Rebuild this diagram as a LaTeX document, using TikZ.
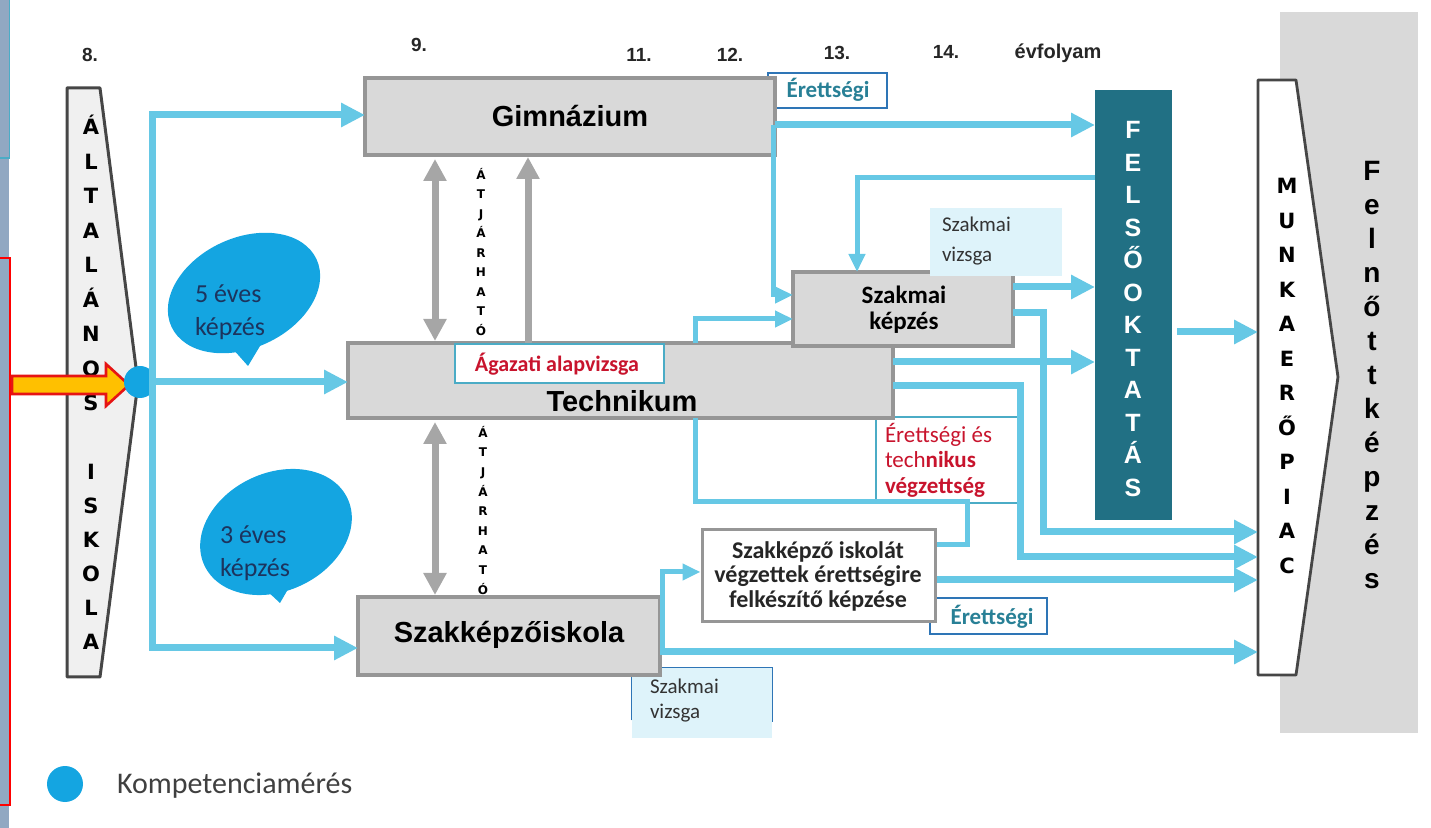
\documentclass[tikz,border=0pt]{standalone}
\usepackage{fontspec}
\setmainfont{Liberation Sans}
\newfontfamily\carl{Carlito}
\newfontfamily\dejav{DejaVu Sans}
\usetikzlibrary{arrows.meta,fit,shapes.geometric}
\definecolor{conn}{RGB}{102,200,229}
\definecolor{garrow}{RGB}{166,166,166}
\definecolor{boxfill}{RGB}{217,217,217}
\definecolor{boxdraw}{RGB}{150,150,150}
\definecolor{felsoc}{RGB}{33,112,132}
\definecolor{bubble}{RGB}{20,165,225}
\definecolor{tealtxt}{RGB}{40,128,150}
\definecolor{redtxt}{RGB}{200,20,45}
\definecolor{navy}{RGB}{28,52,94}
\definecolor{bordblue}{RGB}{46,117,182}
\definecolor{lightc}{RGB}{222,243,250}
\definecolor{tealline}{RGB}{75,172,198}
\definecolor{stripc}{RGB}{145,168,194}
\definecolor{darkline}{RGB}{70,70,70}
\definecolor{arrowyel}{RGB}{255,192,0}
\definecolor{arrowred}{RGB}{230,20,20}
\definecolor{bgc}{RGB}{217,217,217}
\begin{document}
\begin{tikzpicture}[x=0.5pt,y=-0.5pt,
  box/.style={draw=boxdraw,fill=boxfill,line width=2pt,inner sep=0pt,outer sep=0pt},
  conn/.style={draw=conn,line width=3.5pt},
  connA/.style={conn,-{Triangle[length=12pt,width=11.5pt]}},
  connS/.style={draw=conn,line width=2.5pt},
  connSA/.style={connS,-{Triangle[length=9pt,width=8pt]}},
  gar/.style={draw=garrow,line width=3.5pt},
  vlet/.style={inner sep=0pt,outer sep=0pt,text depth=0pt},
  wideletter/.style={vlet,text height=7.65pt,font=\dejav\bfseries\fontsize{10.5}{12}\selectfont},
  colnum/.style={font=\bfseries\fontsize{9.5}{11}\selectfont,text=black!85,inner sep=0pt},
  bigtxt/.style={font=\bfseries\fontsize{14.5}{16}\selectfont,inner sep=0pt},
  plain/.style={inner sep=0pt,outer sep=0pt}]
\useasboundingbox (0,0) rectangle (1431,828);
% left edge strip
\fill[stripc] (0,0) rectangle (9,828);
\draw[tealline,line width=0.75pt] (9.5,0) -- (9.5,158) -- (0,158);
\draw[red,line width=0.75pt] (0,258) -- (10,258) -- (10,805) -- (0,805);
% background of Felnottkepzes
\fill[bgc] (1280,12) rectangle (1418,733);
% helper y levels
\coordinate (h115) at (0,115); \coordinate (h125) at (0,125);
\coordinate (h178) at (0,178); \coordinate (h287) at (0,287);
\coordinate (h295) at (0,295); \coordinate (h313) at (0,313);
\coordinate (h319) at (0,319); \coordinate (h332) at (0,332);
\coordinate (h362) at (0,362); \coordinate (h386) at (0,386);
\coordinate (h502) at (0,502); \coordinate (h532) at (0,532);
\coordinate (h545) at (0,545); \coordinate (h557) at (0,557);
\coordinate (h572) at (0,572); \coordinate (h580) at (0,580);
\coordinate (h648) at (0,648); \coordinate (h652) at (0,652);
% column labels
\node[colnum] (c8) at (90,55) {8.};
\node[colnum] (c9) at (419,45) {9.};
\node[colnum] (c11) at (639,55) {11.};
\node[colnum] (c12) at (730,55) {12.};
\node[colnum] (c13) at (837,53) {13.};
\node[colnum] (c14) at (946,52) {14.};
\node[colnum,font=\bfseries\fontsize{10}{12}\selectfont] (cevf) at (1058,53) {évfolyam};
% speech bubbles
\node[ellipse,fill=bubble,minimum width=80pt,minimum height=55pt,inner sep=0pt,rotate=25] (b5) at (244,293) {};
\fill[bubble] (232,348) -- (263,341) -- (248,366) -- cycle;
\node[ellipse,fill=bubble,minimum width=79pt,minimum height=59pt,inner sep=0pt,rotate=25] (b3) at (276,532) {};
\fill[bubble] (266,590) -- (291,584) -- (280,603) -- cycle;
\node[plain,anchor=west,align=left,text=navy,font=\carl\fontsize{13}{16.5}\selectfont] (b5t) at (195,312) {5 éves\\képzés};
\node[plain,anchor=west,align=left,text=navy,font=\carl\fontsize{13}{16.5}\selectfont] (b3t) at (220,553) {3 éves\\képzés};
% Altalanos iskola
\node[plain,fit={(67,88)(100,677)}] (altal) {};
\draw[draw=darkline,fill=black!6,line width=1.5pt,line join=round] (altal.north west) -- (altal.north east) -- (138,383) -- (altal.south east) -- (altal.south west) -- cycle;
\foreach \l [count=\i] in {Á,L,T,A,L,Á,N,O,S}
  \node[wideletter] (alt\i) at (91,{127+34.5*(\i-1)}) {\l};
\foreach \l [count=\i] in {I,S,K,O,L,A}
  \node[wideletter] (isk\i) at (91,{472+34*(\i-1)}) {\l};
% input arrow
\filldraw[fill=arrowyel,draw=arrowred,line width=1.3pt,line join=miter] (12,376) -- (106,376) -- (106,364) -- (129,385) -- (106,406) -- (106,394) -- (12,394) -- cycle;
\node[circle,fill=bubble,minimum size=16pt,inner sep=0pt] (dot) at (140,382) {};
% upper Erettsegi box (behind Gimnazium)
\node[draw=bordblue,line width=1pt,fill=white,inner sep=0pt,fit={(768,73)(887,108)}] (er1) {};
\node[text=tealtxt,font=\carl\bfseries\fontsize{11.5}{13}\selectfont,inner sep=0pt] (er1t) at (828,90) {Érettségi};
% Erettsegi es technikus box
\node[draw=tealline,line width=0.6pt,inner sep=0pt,fit={(876,417)(1020,503)}] (etv) {};
\node[plain,anchor=north west,align=left,text=redtxt,font=\carl\fontsize{11.5}{12.75}\selectfont] (etvt) at (885,423) {Érettségi és\\tech\textbf{nikus}\\\textbf{végzettség}};
% lower Erettsegi box (behind szeb)
\node[draw=bordblue,line width=1pt,fill=white,inner sep=0pt,fit={(930,598)(1047,634)}] (er2) {};
\node[text=tealtxt,font=\carl\bfseries\fontsize{11.5}{13}\selectfont,inner sep=0pt] (er2t) at (992,617) {Érettségi};
% lower szakmai vizsga (behind Szakkepzoiskola)
\node[fill=lightc,inner sep=0pt,fit={(632,668)(772,738)}] (szv2) {};
\draw[bordblue,line width=0.7pt] (szv2.south west) ++(0,-18) -- (szv2.north west) -- (szv2.north east) -- ++(0,54);
\node[plain,anchor=north west,align=left,text=black!80,font=\carl\fontsize{10.5}{12.5}\selectfont] (szv2t) at (650,679) {Szakmai\\vizsga};
% main boxes
\node[box,fit={(365,78)(775,155)}] (gim) {};
\node[bigtxt] (gimt) at (570,116) {Gimnázium};
\node[box,fit={(348,343)(893,418)}] (tech) {};
\node[bigtxt] (techt) at (622,401) {Technikum};
\node[box,fit={(358,597)(660,675)}] (szi) {};
\node[bigtxt] (szit) at (509,635) {Szakképzőiskola};
\node[box,fit={(793,272)(1013,346)}] (szk) {};
\node[plain,align=center,font=\carl\bfseries\fontsize{12.5}{13}\selectfont] (szkt) at (904,310) {Szakmai\\képzés};
\node[fill=lightc,inner sep=0pt,fit={(930,208)(1062,276)}] (szv1) {};
\node[plain,anchor=north west,align=left,text=black!80,font=\carl\fontsize{10.5}{15}\selectfont] (szv1t) at (942,217) {Szakmai\\vizsga};
\node[draw=boxdraw,line width=1.5pt,fill=white,inner sep=0pt,fit={(702,530)(935,622)}] (szeb) {};
\node[plain,align=center,font=\carl\bfseries\fontsize{12}{12.25}\selectfont,text=black!85] (szebt) at (818,576) {Szakképző iskolát\\végzettek érettségire\\felkészítő képzése};
% Agazati alapvizsga
\node[draw=tealline,line width=0.6pt,fill=white,inner sep=0pt,fit={(455,344)(664,383)}] (agaz) {};
\node[text=redtxt,font=\carl\bfseries\fontsize{11}{13}\selectfont,inner sep=0pt] (agazt) at (557,364) {Ágazati alapvizsga};
% Felsooktatas
\node[fill=felsoc,inner sep=0pt,outer sep=0pt,fit={(1095,90)(1172,520)}] (felso) {};
\foreach \l [count=\i] in {F,E,L,S,Ő,O,K,T,A,T,Á,S}
  \node[vlet,text height=9pt,text=white,font=\bfseries\fontsize{12.5}{14}\selectfont] (fel\i) at (1133,{130+32.5*(\i-1)}) {\l};
% Munkaeropiac
\node[plain,fit={(1258,80)(1296,675)}] (munka) {};
\draw[draw=darkline,fill=white,line width=1.4pt,line join=round] (munka.north west) -- (munka.north east) -- (1338,377) -- (munka.south east) -- (munka.south west) -- cycle;
\foreach \l [count=\i] in {M,U,N,K,A,E,R,Ő,P,I,A,C}
  \node[wideletter] (mun\i) at (1287,{186+34.5*(\i-1)}) {\l};
\foreach \l [count=\i] in {F,e,l,n,ő,t,t,k,é,p,z,é,s}
  \node[vlet,text height=10pt,font=\bfseries\fontsize{14}{16}\selectfont] (fnk\i) at (1372,{171+34*(\i-1)}) {\l};
% Atjarhato
\foreach \l [count=\i] in {Á,T,J,Á,R,H,A,T,Ó}
  \node[vlet,text height=4.4pt,font=\dejav\bfseries\fontsize{6}{7}\selectfont] (atj\i) at (481,{175+19.5*(\i-1)}) {\l};
\foreach \l [count=\i] in {Á,T,J,Á,R,H,A,T,Ó}
  \node[vlet,text height=4.4pt,font=\dejav\bfseries\fontsize{6}{7}\selectfont] (atk\i) at (483,{433+19.6*(\i-1)}) {\l};
% grey arrows
\coordinate (ga) at (435,0); \coordinate (gb) at (528,0);
\draw[gar,{Triangle[length=11pt,width=11pt]}-{Triangle[length=11pt,width=11pt]},shorten <=2pt,shorten >=1pt] (ga |- gim.south) -- (ga |- tech.north);
\draw[gar,-{Triangle[length=11pt,width=11pt]},shorten >=1pt] (gb |- tech.north) -- (gb |- gim.south);
\draw[gar,{Triangle[length=11pt,width=11pt]}-{Triangle[length=11pt,width=11pt]},shorten <=2pt,shorten >=1pt] (ga |- tech.south) -- (ga |- szi.north);
% connectors from the dot
\coordinate (vx) at (152,0);
\draw[connA] (dot.east) -- (tech.west |- dot.east);
\draw[connA] (vx |- h648) -- (vx |- h115) -- (gim.west |- h115);
\draw[connA] (vx |- h115) -- (vx |- h648) -- (szi.west |- h648);
% Gimnazium
\coordinate (gx) at (773,0);
\draw[connA] (gim.east |- h125) -- (felso.west |- h125);
\draw[connSA] (gx |- h125) -- (gx |- h295) -- (szk.west |- h295);
% Felsooktatas back to Szakmai kepzes
\coordinate (fx) at (857,0);
\draw[connSA] (felso.west |- h178) -- (fx |- h178) -- (fx |- szk.north);
% Szakmai kepzes
\coordinate (sx) at (1043,0);
\draw[connA] (szk.east |- h287) -- (felso.west |- h287);
\draw[connA] (szk.east |- h313) -- (sx |- h313) -- (sx |- h532) -- (munka.west |- h532);
% Technikum
\coordinate (tx) at (1020,0); \coordinate (tv) at (695,0); \coordinate (lx) at (967,0);
\draw[connA] (tech.east |- h362) -- (felso.west |- h362);
\draw[connA] (tech.east |- h386) -- (tx |- h386) -- (tx |- h557) -- (munka.west |- h557);
\draw[connSA] (tv |- tech.north) -- (tv |- h319) -- (szk.west |- h319);
\draw[connS] (tv |- tech.south) -- (tv |- h502) -- (lx |- h502) -- (lx |- h545) -- (szeb.east |- h545);
% Felsooktatas to munkaeropiac
\draw[connA,shorten <=2.5pt] (felso.east |- h332) -- (munka.west |- h332);
% Szakkepzoiskola
\coordinate (zx) at (662,0);
\draw[connSA] (zx |- h652) -- (zx |- h572) -- (szeb.west |- h572);
\draw[connA] (szi.east |- h652) -- (munka.west |- h652);
\draw[connA] (szeb.east |- h580) -- (munka.west |- h580);
% legend
\node[circle,fill=bubble,minimum size=18pt,inner sep=0pt] (legdot) at (65,784) {};
\node[plain,anchor=west,text=black!75,font=\carl\fontsize{15}{18}\selectfont] (legt) at (117,786) {Kompetenciamérés};
\end{tikzpicture}
\end{document}
